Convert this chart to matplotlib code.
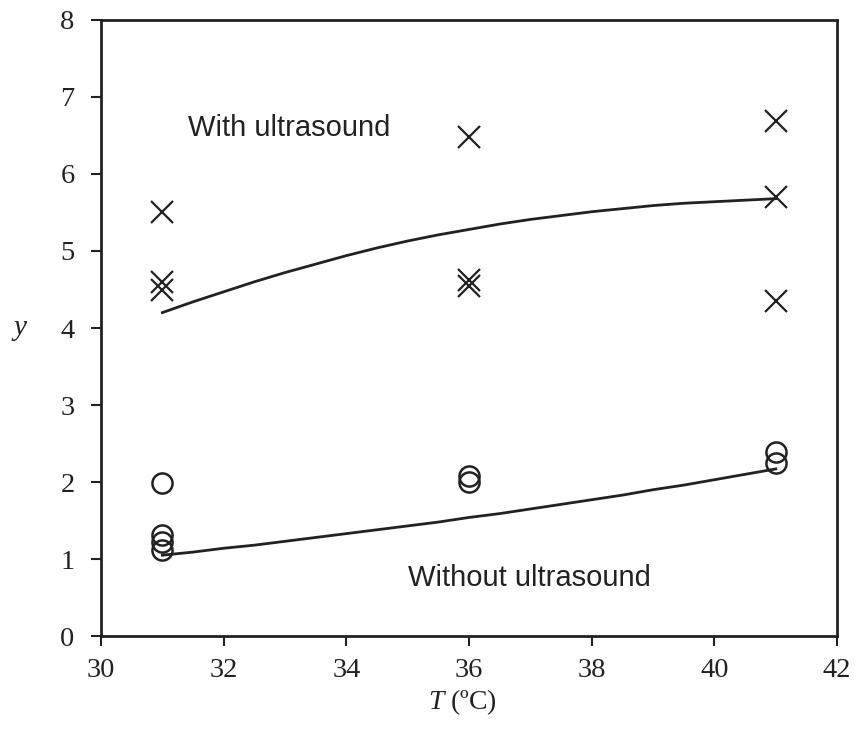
import matplotlib
matplotlib.use("Agg")
import matplotlib.pyplot as plt

plt.rcParams["mathtext.fontset"] = "custom"
plt.rcParams["mathtext.it"] = "Liberation Serif:italic"
plt.rcParams["mathtext.rm"] = "Liberation Serif"

# Measured data: with ultrasound (crosses)
with_T = [31, 31, 31, 36, 36, 36, 41, 41, 41]
with_y = [5.50, 4.60, 4.50, 6.48, 4.62, 4.55, 6.69, 5.70, 4.35]

# Measured data: without ultrasound (circles)
without_T = [31, 31, 31, 31, 36, 36, 41, 41]
without_y = [1.99, 1.31, 1.22, 1.12, 2.08, 2.00, 2.39, 2.25]

# Fitted model curves
fit_T = [31, 31.5, 32, 32.5, 33, 33.5, 34, 34.5, 35, 35.5, 36, 36.5, 37,
         37.5, 38, 38.5, 39, 39.5, 40, 40.5, 41]
fit_with = [4.20, 4.34, 4.47, 4.60, 4.72, 4.83, 4.94, 5.04, 5.13, 5.21, 5.28,
            5.35, 5.41, 5.46, 5.51, 5.55, 5.59, 5.62, 5.64, 5.66, 5.68]
fit_without = [1.05, 1.09, 1.14, 1.18, 1.23, 1.28, 1.33, 1.38, 1.43, 1.48, 1.54,
               1.59, 1.65, 1.71, 1.77, 1.83, 1.90, 1.96, 2.03, 2.10, 2.17]

xticks = [30, 32, 34, 36, 38, 40, 42]
yticks = [0, 1, 2, 3, 4, 5, 6, 7, 8]

ink = "#222222"
serif = ["Liberation Serif", "DejaVu Serif"]
sans = ["Liberation Sans", "DejaVu Sans"]

fig = plt.figure(figsize=(8.56, 7.40), dpi=100)
ax = fig.add_axes([0.118, 0.1405, 0.860, 0.8325])

ax.plot(fit_T, fit_with, color=ink, lw=2.0, zorder=2)
ax.plot(fit_T, fit_without, color=ink, lw=2.0, zorder=2)
ax.plot(with_T, with_y, linestyle="none", marker="x", markersize=16.5,
        markeredgewidth=1.6, color=ink, zorder=3)
ax.plot(without_T, without_y, linestyle="none", marker="o", markersize=14.5,
        markerfacecolor="none", markeredgewidth=1.8, markeredgecolor=ink, zorder=3)

ax.set_xlim(30, 42)
ax.set_ylim(0, 8)
ax.set_xticks(xticks)
ax.set_yticks(yticks)
ax.tick_params(direction="out", length=7, width=1.5, color=ink, labelsize=20.5,
               labelcolor=ink, pad=12)
ax.tick_params(axis="x", pad=9)
for lab in ax.get_xticklabels() + ax.get_yticklabels():
    lab.set_family(serif)
for s in ax.spines.values():
    s.set_linewidth(2.0)
    s.set_color(ink)

ax.text(31.42, 6.6, "With ultrasound", fontsize=21, family=sans, color=ink,
        ha="left", va="center")
ax.text(35.0, 0.75, "Without ultrasound", fontsize=21, family=sans, color=ink,
        ha="left", va="center")

fig.text(462 / 856, 1 - 702 / 740, r"$T$ (ºC)", fontsize=20, family=serif,
         color=ink, ha="center", va="center")
fig.text(20 / 856, 1 - 328 / 740, "y", fontsize=21, family=serif, style="italic",
         color=ink, ha="center", va="center")

fig.savefig("out.png", dpi=100)
